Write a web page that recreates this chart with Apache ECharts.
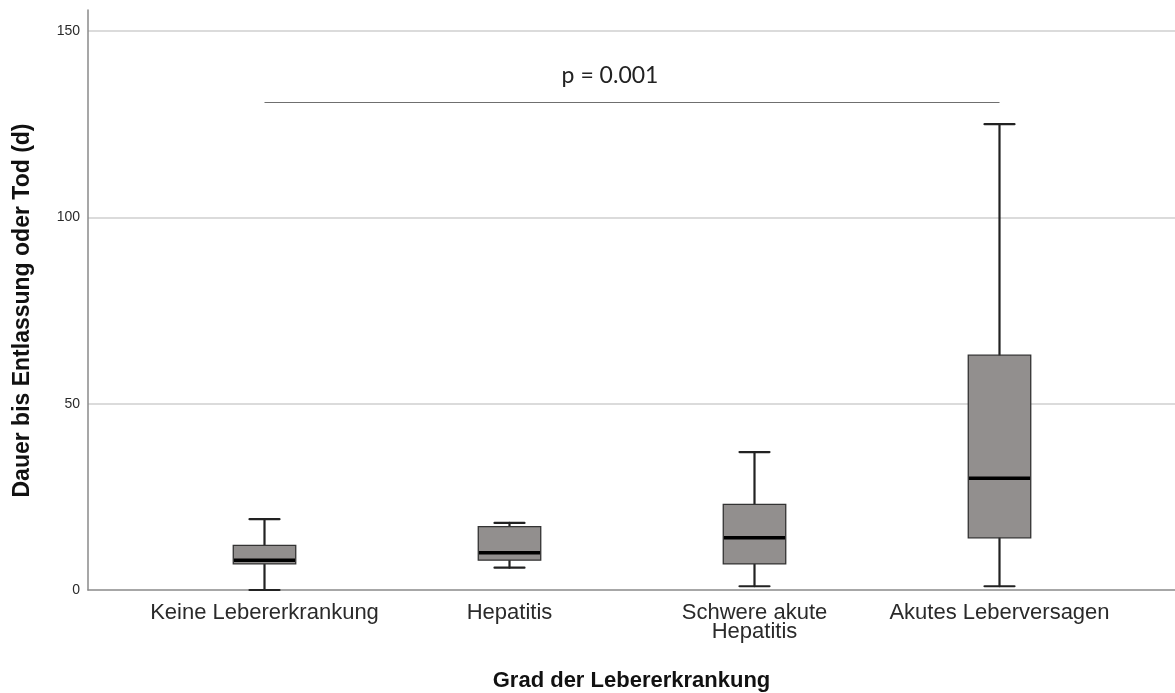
<!DOCTYPE html>
<html><head><meta charset="utf-8">
<script src="https://cdn.jsdelivr.net/npm/echarts@6/dist/echarts.min.js"></script>
<style>html,body{margin:0;padding:0;background:#fff}#c{width:1175px;height:693px}</style>
</head><body><div id="c"></div>
<script>
const categories = ['Keine Lebererkrankung', 'Hepatitis', 'Schwere akute\nHepatitis', 'Akutes Leberversagen'];
const whiskerLow = [0, 6, 1, 1];
const q1 = [7, 8, 7, 14];
const median = [8, 10, 14, 30];
const q3 = [12, 17, 23, 63];
const whiskerHigh = [19, 18, 37, 125];
const yTicks = [0, 50, 100, 150];
const pLabel = 'p = 0.001';
const pBracketY = 131;
const yAxisTitle = 'Dauer bis Entlassung oder Tod (d)';
const xAxisTitle = 'Grad der Lebererkrankung';

const boxData = categories.map((c, i) => [i, whiskerLow[i], q1[i], median[i], q3[i], whiskerHigh[i]]);
const yMin = yTicks[0], yMax = yTicks[yTicks.length - 1], yStep = yTicks[1] - yTicks[0];

function renderBox(params, api) {
  const i = api.value(0);
  const pLo = api.coord([i, api.value(1)]);
  const pQ1 = api.coord([i, api.value(2)]);
  const pMed = api.coord([i, api.value(3)]);
  const pQ3 = api.coord([i, api.value(4)]);
  const pHi = api.coord([i, api.value(5)]);
  const band = api.size([1, 0])[0];
  const bw = band * 0.255;
  const cw = bw * 0.48;
  const x = pMed[0];
  const wStyle = { stroke: '#222', lineWidth: 2.2, lineCap: 'round' };
  return {
    type: 'group',
    children: [
      { type: 'line', shape: { x1: x, y1: pHi[1], x2: x, y2: pQ3[1] }, style: wStyle },
      { type: 'line', shape: { x1: x, y1: pQ1[1], x2: x, y2: pLo[1] }, style: wStyle },
      { type: 'line', shape: { x1: x - cw / 2, y1: pHi[1], x2: x + cw / 2, y2: pHi[1] }, style: wStyle },
      { type: 'line', shape: { x1: x - cw / 2, y1: pLo[1], x2: x + cw / 2, y2: pLo[1] }, style: wStyle },
      { type: 'rect', shape: { x: x - bw / 2, y: pQ3[1], width: bw, height: pQ1[1] - pQ3[1] },
        style: { fill: '#928f8e', stroke: '#333', lineWidth: 1.3 } },
      { type: 'line', shape: { x1: x - bw / 2 + 0.7, y1: pMed[1], x2: x + bw / 2 - 0.7, y2: pMed[1] },
        style: { stroke: '#000', lineWidth: 3.5 } }
    ]
  };
}

const chart = echarts.init(document.getElementById('c'));
chart.setOption({
  animation: false,
  backgroundColor: '#fff',
  grid: [
    { left: 88, right: 0, top: 10, bottom: 103, outerBoundsMode: 'none', containLabel: false },
    { left: 88, right: 0, top: 31, bottom: 103, outerBoundsMode: 'none', containLabel: false },
    { left: 142, right: 53, top: 31, bottom: 103, outerBoundsMode: 'none', containLabel: false }
  ],
  xAxis: [
    { gridIndex: 0, type: 'value', min: 0, max: 1, axisLine: { show: true, lineStyle: { color: '#8a8a8a', width: 1.5 } },
      axisLabel: { show: false }, axisTick: { show: false }, splitLine: { show: false },
      name: xAxisTitle, nameLocation: 'middle', nameGap: 80,
      nameTextStyle: { fontFamily: 'Liberation Sans', fontSize: 22, fontWeight: 'bold', color: '#111' } },
    { gridIndex: 1, type: 'value', min: 0, max: 1, show: false },
    { gridIndex: 2, type: 'category', data: categories,
      axisLine: { show: false }, axisTick: { show: false },
      axisLabel: { fontFamily: 'Liberation Sans', fontSize: 22, color: '#2a2a2a', margin: 13, lineHeight: 19, interval: 0 } }
  ],
  yAxis: [
    { gridIndex: 0, type: 'value', min: 0, max: 155.6,
      axisLine: { show: true, lineStyle: { color: '#8a8a8a', width: 1.5 } },
      axisLabel: { show: false }, axisTick: { show: false }, splitLine: { show: false } },
    { gridIndex: 1, type: 'value', min: yMin, max: yMax, interval: yStep,
      axisLine: { show: false }, axisTick: { show: false },
      axisLabel: { fontFamily: 'Liberation Sans', fontSize: 14, color: '#2a2a2a', margin: 8 },
      splitLine: { show: true, showMinLine: false, lineStyle: { color: '#cfcfcf', width: 1.5 } },
      name: yAxisTitle, nameLocation: 'middle', nameGap: 54,
      nameTextStyle: { fontFamily: 'Liberation Sans', fontSize: 23, fontWeight: 'bold', color: '#111' } },
    { gridIndex: 2, type: 'value', min: yMin, max: yMax, interval: yStep, show: false }
  ],
  series: [{
    type: 'custom',
    xAxisIndex: 2, yAxisIndex: 2,
    renderItem: renderBox,
    clip: false,
    data: boxData,
    z: 5,
    markLine: {
      silent: true,
      symbol: 'none',
      lineStyle: { color: '#6f6f6f', width: 1.2, type: 'solid' },
      label: { show: true, position: 'middle', formatter: pLabel, fontFamily: 'Lato', fontSize: 23, color: '#222', distance: 15, offset: [-22, 0] },
      data: [[{ coord: [categories[0], pBracketY] }, { coord: [categories[3], pBracketY] }]]
    }
  }]
});
</script>
</body></html>
